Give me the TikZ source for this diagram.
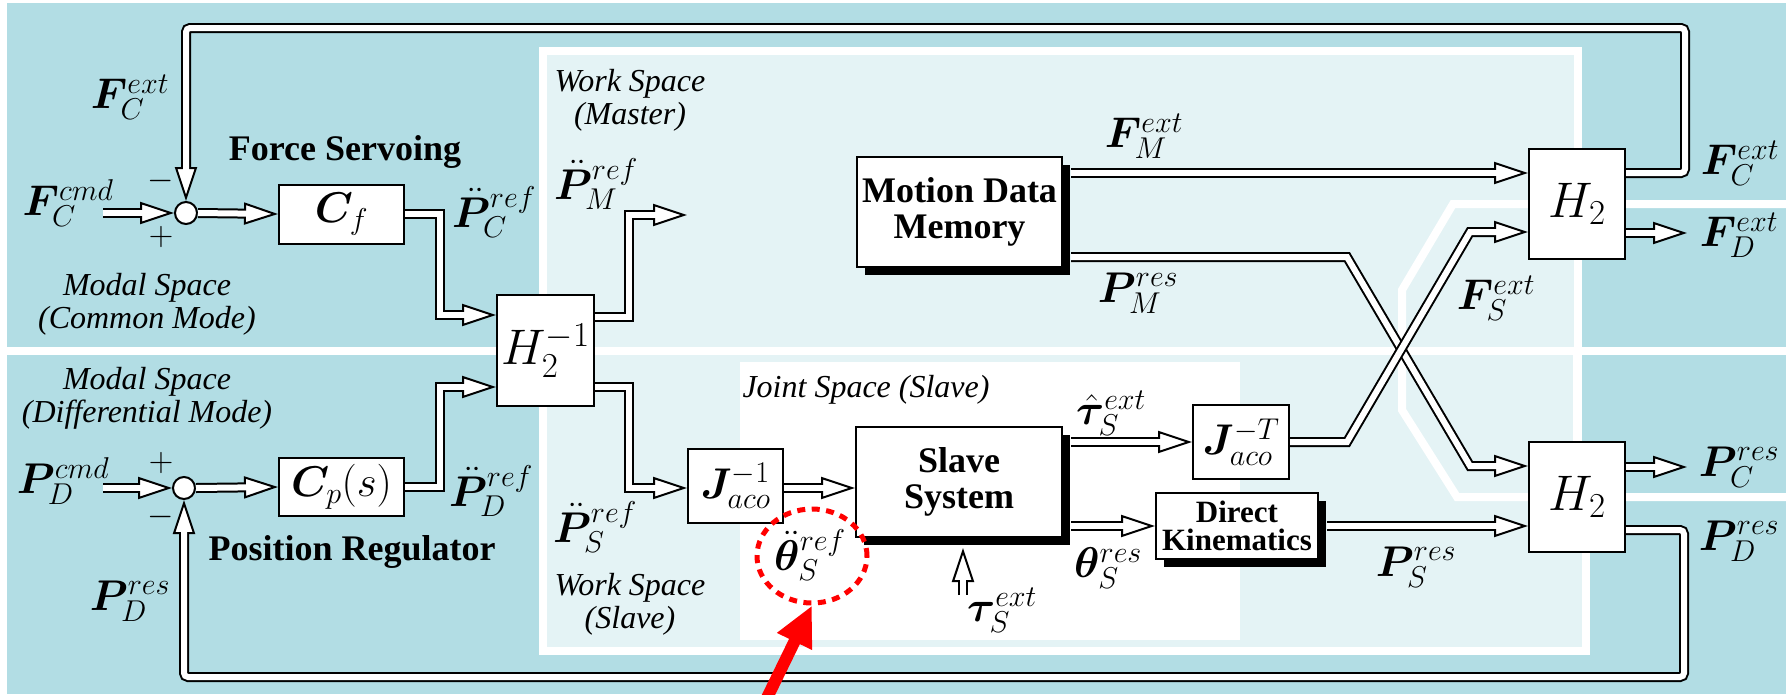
\RequirePackage{fix-cm}
\documentclass[tikz,border=0pt]{standalone}
\usepackage{amsmath}
\usepackage{bm}
\usepackage[no-math]{fontspec}
\setmainfont{Liberation Serif}
\usetikzlibrary{arrows.meta,shapes.geometric,shadows}
\definecolor{tealbg}{RGB}{178,221,228}
\definecolor{lightbg}{RGB}{228,243,245}
\tikzset{
  blk/.style={draw, line width=2pt, fill=white, inner sep=0pt, align=center},
  sblk/.style={blk, drop shadow={shadow xshift=8pt, shadow yshift=-8pt, opacity=1, fill=black}},
  sumc/.style={circle, draw, line width=2pt, fill=white, minimum size=22pt, inner sep=0pt},
  pipe/.style={line width=10pt, line join=miter, -{Triangle[length=34pt,width=22pt,line width'=2pt,fill=white]}, postaction={draw, white, line width=6pt, -, shorten >=30pt}},
  lab/.style={inner sep=0pt, font=\fontsize{43}{47}\selectfont},
  bigm/.style={inner sep=0pt, font=\fontsize{50}{56}\selectfont},
  sgn/.style={inner sep=0pt, font=\fontsize{34}{36}\selectfont},
  reg/.style={inner sep=0pt, align=center, font=\itshape\fontsize{32}{33}\selectfont},
  bold/.style={inner sep=0pt, align=center, font=\bfseries\fontsize{36}{37}\selectfont},
  boxtxt/.style={font=\bfseries\fontsize{36}{36}\selectfont},
}
\begin{document}
\begin{tikzpicture}[x=1pt,y=-1pt]
\useasboundingbox (0,0) rectangle (1786,694);
\clip (0,0) rectangle (1786,694);
% backgrounds
\fill[white] (0,0) rectangle (1786,694);
\fill[tealbg] (7,3) rectangle (1786,694);
\fill[white] (7,347) rectangle (1786,355);
\fill[white] (539,47) rectangle (1582,347);
\fill[lightbg] (547,55) rectangle (1574,347);
\fill[white] (539,355) rectangle (1590,655);
\fill[lightbg] (547,355) rectangle (1582,647);
\fill[white] (1573,355) rectangle (1582,497);
\fill[tealbg] (1582,355) rectangle (1786,497);
\fill[white] (740,362) rectangle (1240,640);
\draw[white, line width=8pt] (1795,204) -- (1453,204) -- (1402,290) -- (1402,410) -- (1457,497) -- (1795,497);

% blocks
\node[sumc] (s1) at (186,213) {};
\node[blk, lab, minimum width=125pt, minimum height=59pt] (cf) at (341.5,214) {$\bm{C}_f$};
\node[sumc] (s2) at (184,488) {};
\node[blk, lab, minimum width=125pt, minimum height=58pt] (cp) at (341.5,487) {$\bm{C}_p(s)$};
\node[blk, bigm, minimum width=97pt, minimum height=111pt] (hinv) at (545.5,350.5) {$H_2^{-1}$};
\node[blk, lab, minimum width=95pt, minimum height=74pt] (ji) at (735.5,486) {$\bm{J}_{aco}^{-1}$};
\node[sblk, boxtxt, minimum width=206pt, minimum height=110pt] (slave) at (959,482) {Slave\\System};
\node[blk, lab, minimum width=96pt, minimum height=74pt] (jt) at (1241,442) {$\bm{J}_{aco}^{-T}$};
\node[sblk, font=\bfseries\fontsize{31}{28}\selectfont, minimum width=162pt, minimum height=66pt] (dk) at (1237,526) {Direct\\Kinematics};
\node[sblk, boxtxt, minimum width=205pt, minimum height=110pt] (mdm) at (959.5,212) {Motion Data\\Memory};
\node[blk, bigm, minimum width=96pt, minimum height=110pt] (h2a) at (1577,204) {$H_2$};
\node[blk, bigm, minimum width=96pt, minimum height=110pt] (h2b) at (1577,497) {$H_2$};

% free ends
\coordinate (fcin) at (103,213);
\coordinate (pdin) at (103,488);
\coordinate (pmout) at (687,215);
\coordinate (tauin) at (963,595);
\coordinate (fdout) at (1687,233);
\coordinate (pcout) at (1687,467);

% connectors
\draw[pipe] (fcin) -- (s1.west);
\draw[pipe] (s1.east) -- (cf.west);
\draw[pipe] (cf.east) -- (440,214) -- (440,315) -- (hinv.west |- 0,315);
\draw[pipe, rounded corners=4pt] (h2a.east |- 0,173) -- (1685,173) -- (1685,28) -- (186,28) -- (s1.north);
\draw[pipe] (pdin) -- (s2.west);
\draw[pipe] (s2.east) -- (cp.west);
\draw[pipe] (cp.east) -- (440,487) -- (440,387) -- (hinv.west |- 0,387);
\draw[pipe, rounded corners=4pt] (h2b.east |- 0,530) -- (1684,530) -- (1684,677) -- (184,677) -- (s2.south);
\draw[pipe] (hinv.east |- 0,317) -- (629,317) -- (629,215) -- (pmout);
\draw[pipe] (hinv.east |- 0,387) -- (629,387) -- (629,488) -- (ji.west |- 0,488);
\draw[pipe] (ji.east |- 0,488) -- (slave.west |- 0,488);
\draw[pipe, shorten <=8pt] (jt.west -| slave.east) -- (jt.west);
\draw[pipe, shorten <=8pt] (dk.west -| slave.east) -- (dk.west);
\draw[pipe, shorten >=10pt] (tauin) -- (slave.south -| tauin);
\draw[pipe, shorten <=8pt] (mdm.east |- 0,173) -- (h2a.west |- 0,173);
\draw[pipe, shorten <=8pt] (mdm.east |- 0,257) -- (1347,257) -- (1470,466) -- (h2b.west |- 0,466);
\draw[pipe] (jt.east) -- (1347,442) -- (1470,232) -- (h2a.west |- 0,232);
\draw[pipe, shorten <=8pt] (dk.east) -- (h2b.west |- dk.east);
\draw[pipe] (h2a.east |- fdout) -- (fdout);
\draw[pipe] (h2b.east |- pcout) -- (pcout);

% labels
\node[lab] (lfccmd) at (68,203) {$\bm{F}_C^{cmd}$};
\node[sgn] (m1) at (161,181) {$-$};
\node[sgn] (p1) at (161,237) {$+$};
\node[lab] (lfcext) at (130,97) {$\bm{F}_C^{ext}$};
\node[bold] (tfs) at (345,152) {Force Servoing};
\node[lab] (lpcref) at (494,212) {$\ddot{\bm{P}}_C^{ref}$};
\node[reg] (tmc) at (147,304) {Modal Space\\(Common Mode)};
\node[reg] (twm) at (630,100) {Work Space\\(Master)};
\node[lab] (lpmref) at (596,184) {$\ddot{\bm{P}}_M^{ref}$};
\node[lab] (lfmext) at (1144,136) {$\bm{F}_M^{ext}$};
\node[lab] (lpmres) at (1138,293) {$\bm{P}_M^{res}$};
\node[lab] (lfcext2) at (1740,163) {$\bm{F}_C^{ext}$};
\node[lab] (lfdext) at (1739,235) {$\bm{F}_D^{ext}$};
\node[lab] (lfsext) at (1496,298) {$\bm{F}_S^{ext}$};
\node[reg] (tmd) at (147,398) {Modal Space\\(Differential Mode)};
\node[lab] (lpdcmd) at (63,481) {$\bm{P}_D^{cmd}$};
\node[sgn] (p2) at (161,463) {$+$};
\node[sgn] (m2) at (161,517) {$-$};
\node[lab] (lpdref) at (491,491) {$\ddot{\bm{P}}_D^{ref}$};
\node[bold] (tpr) at (352,552) {Position Regulator};
\node[lab] (lpdres) at (130,601) {$\bm{P}_D^{res}$};
\node[lab] (lpsref) at (595,527) {$\ddot{\bm{P}}_S^{ref}$};
\node[reg] (tws) at (630,604) {Work Space\\(Slave)};
\node[reg] (tjs) at (866,390) {Joint Space (Slave)};
\node[lab] (lthref) at (810,555) {$\ddot{\bm{\theta}}_S^{ref}$};
\node[lab] (ltauh) at (1111,413) {$\hat{\bm{\tau}}_S^{ext}$};
\node[lab] (lthres) at (1108,568) {$\bm{\theta}_S^{res}$};
\node[lab] (ltau) at (1002,610) {$\bm{\tau}_S^{ext}$};
\node[lab] (lpsres) at (1416,567) {$\bm{P}_S^{res}$};
\node[lab] (lpcres) at (1739,467) {$\bm{P}_C^{res}$};
\node[lab] (lpdres2) at (1739,541) {$\bm{P}_D^{res}$};

% highlight
\node[ellipse, draw=red, line width=5pt, dash pattern=on 8pt off 6.5pt, minimum width=110pt, minimum height=94pt, inner sep=0pt] (hl) at (812,556) {};
\coordinate (rs) at (765,702);
\draw[red, line width=12pt, -{Triangle[length=40pt,width=36pt]}] (rs) -- (hl.south);
\end{tikzpicture}
\end{document}
